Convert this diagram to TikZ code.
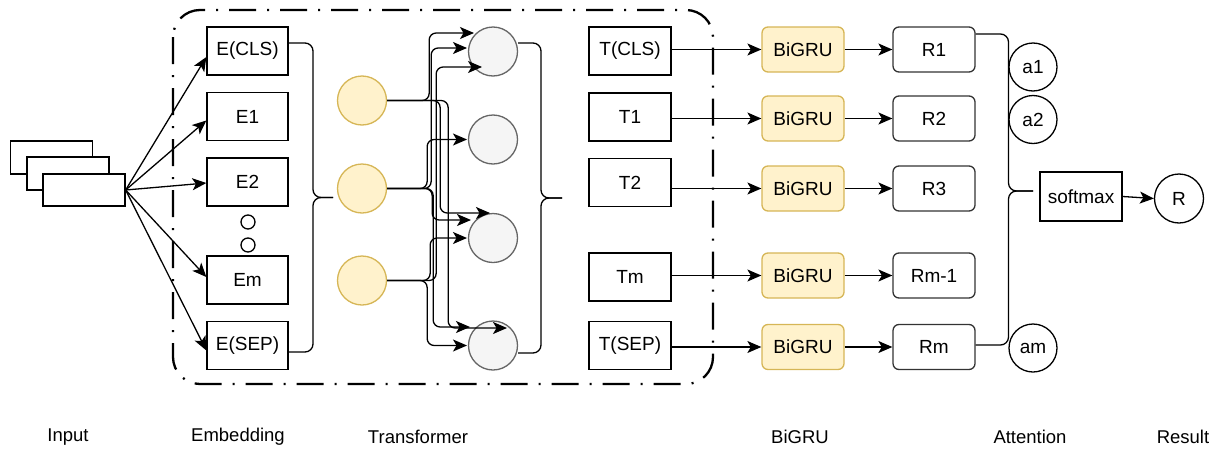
\documentclass[tikz,border=0pt]{standalone}
\usepackage{fontspec}
\setmainfont{Liberation Sans}
\usetikzlibrary{arrows.meta,calc}
\definecolor{grufill}{HTML}{FFF2CC}
\definecolor{gruline}{HTML}{D6B656}
\definecolor{gfill}{HTML}{F5F5F5}
\definecolor{gline}{HTML}{666666}
\definecolor{rline}{HTML}{333333}
\begin{document}
\begin{tikzpicture}[x=1pt,y=-1pt,
  every node/.style={font=\fontsize{19}{22}\selectfont, inner sep=0pt},
  box/.style={draw=black, line width=1.3pt, fill=white, minimum width=81pt, minimum height=48pt},
  inbox/.style={draw=black, line width=1.3pt, fill=white, minimum width=82pt, minimum height=32pt},
  gru/.style={draw=gruline, fill=grufill, rounded corners=6pt, line width=1.3pt, minimum width=82pt, minimum height=45pt},
  rbox/.style={draw=rline, rounded corners=6pt, line width=1.3pt, minimum width=82pt, minimum height=45pt},
  ycirc/.style={circle, draw=gruline, fill=grufill, line width=1.3pt, minimum size=49pt},
  gcirc/.style={circle, draw=gline, fill=gfill, line width=1.3pt, minimum size=49pt},
  acirc/.style={circle, draw=black, line width=1.3pt, minimum size=48pt},
  dotc/.style={circle, draw=black, line width=1.3pt, minimum size=14pt},
  arr/.style={-{Stealth[length=14pt,width=12pt,inset=3.5pt]}, line width=1.3pt},
  link/.style={line width=1.3pt},
  elbow/.style={arr, rounded corners=7pt},
  brace/.style={link, rounded corners=8pt},
  frame/.style={line width=2.3pt, dash pattern=on 27pt off 11pt on 2pt off 11pt, rounded corners=27pt},
  lab/.style={font=\fontsize{18.5}{22}\selectfont}
]
\useasboundingbox (0,0) rectangle (1225,450);

% frame
\draw[frame] (173,10) rectangle (713,384);

% input stack
\node[inbox, minimum height=33pt] (in1) at (51.5,157.5) {};
\node[inbox, minimum height=33pt] (in2) at (68,173.5) {};
\node[inbox] (in3) at (84,190) {};

% embedding
\node[box] (ecls) at (247.5,51) {E(CLS)};
\node[box] (e1) at (247.5,116.5) {E1};
\node[box] (e2) at (247.5,182) {E2};
\node[dotc] (d1) at (248,222) {};
\node[dotc] (d2) at (248,245) {};
\node[box] (em) at (247.5,280) {Em};
\node[box] (esep) at (247.5,345.5) {E(SEP)};

\draw[arr] (in3.east) -- ($(ecls.west)+(0,6)$);
\draw[arr] (in3.east) -- ($(e1.west)+(0,4)$);
\draw[arr] (in3.east) -- ($(e2.west)+(0,1)$);
\draw[arr] (in3.east) -- ($(em.west)+(0,-3)$);
\draw[arr] (in3.east) -- ($(esep.west)+(0,5)$);

% embedding brace
\coordinate (tip1) at (333,197.5);
\draw[brace] ($(ecls.east)+(0,-8)$) -| ($(tip1)+(-20,0)$) -- (tip1);
\draw[brace] ($(esep.east)+(0,6.5)$) -| ($(tip1)+(-20,0)$) -- (tip1);

% transformer circles
\node[ycirc] (y1) at (362,100.5) {};
\node[ycirc] (y2) at (362,188.5) {};
\node[ycirc] (y3) at (362,280.5) {};
\node[gcirc] (g1) at (493,51.5) {};
\node[gcirc] (g2) at (493,139.5) {};
\node[gcirc] (g3) at (493,238) {};
\node[gcirc] (g4) at (493,345.5) {};

% transformer connectors
\draw[elbow] (y1.east) -- ++(42,0) |- ($(g1.center)+(-19,-18.5)$);
\draw[elbow] (y1.east) -- ++(53,0) |- ($(g3.center)+(-3,-25)$);
\draw[elbow] (y1.east) -- ++(61,0) |- ($(g4.center)+(14,-17.5)$);
\draw[elbow] (y2.east) -- ++(44,0) |- ($(g1.center)+(-26,-3.5)$);
\draw[elbow] (y2.east) -- ++(40,0) |- ($(g2.center)+(-26,0)$);
\draw[elbow] (y2.east) -- ++(45,0) |- ($(g3.center)+(-22,-18)$);
\draw[elbow] (y2.east) -- ++(46,0) |- ($(g4.center)+(-23,-18.5)$);
\draw[elbow] (y3.east) -- ++(49,0) |- ($(g1.center)+(-11,15.5)$);
\draw[elbow] (y3.east) -- ++(43,0) |- ($(g3.center)+(-26,0)$);
\draw[elbow] (y3.east) -- ++(40,0) |- ($(g4.center)+(-26,0)$);

% transformer brace
\coordinate (tip2) at (562,198);
\draw[brace] ($(g1.east)+(0,-8.5)$) -| ($(tip2)+(-21,0)$) -- (tip2);
\draw[brace] ($(g4.east)+(0,7.5)$) -| ($(tip2)+(-21,0)$) -- (tip2);

% T boxes
\node[box, minimum width=82pt] (tcls) at (630,51) {T(CLS)};
\node[box, minimum width=82pt] (t1) at (630,117) {T1};
\node[box, minimum width=82pt] (t2) at (630,182.5) {T2};
\node[box, minimum width=82pt] (tm) at (630,277) {Tm};
\node[box, minimum width=82pt] (tsep) at (630,345.5) {T(SEP)};

% BiGRU
\node[gru] (b1) at (803,49.5) {BiGRU};
\node[gru] (b2) at (803,118.5) {BiGRU};
\node[gru] (b3) at (803,188.5) {BiGRU};
\node[gru] (b4) at (803,275.5) {BiGRU};
\node[gru] (b5) at (803,347) {BiGRU};

% R boxes
\node[rbox] (r1) at (934,49.5) {R1};
\node[rbox] (r2) at (934,118.5) {R2};
\node[rbox] (r3) at (934,188.5) {R3};
\node[rbox] (r4) at (934,275.5) {Rm-1};
\node[rbox] (r5) at (934,347) {Rm};

\foreach \t/\b/\r in {tcls/b1/r1, t1/b2/r2, t2/b3/r3, tm/b4/r4, tsep/b5/r5}{
  \draw[arr] (\b.west -| \t.east) -- (\b.west);
  \draw[arr] (\b.east) -- (\r.west);
}

% attention
\node[acirc] (a1) at (1033,67) {a1};
\node[acirc] (a2) at (1033,119.5) {a2};
\node[acirc] (am) at (1033,348) {am};
\coordinate (tip3) at (1033,191);
\draw[brace] ($(r1.east)+(0,-15.5)$) -| ($(tip3)+(-24.5,0)$) -- (tip3);
\draw[brace] ($(r5.east)+(0,-2)$) -| ($(tip3)+(-24.5,0)$) -- (tip3);

\node[box, minimum width=82pt, minimum height=49pt] (soft) at (1081,196.5) {softmax};
\node[acirc, minimum size=49pt] (res) at (1179,198.5) {R};
\draw[arr] (soft.east) -- (res.west);

% bottom labels
\node[lab] (l1) at (68,437) {Input};
\node[lab] (l2) at (238,437) {Embedding};
\node[lab] (l3) at (418,437) {Transformer};
\node[lab] (l4) at (800,437) {BiGRU};
\node[lab] (l5) at (1030,437) {Attention};
\node[lab] (l6) at (1183,437) {Result};
\end{tikzpicture}
\end{document}
